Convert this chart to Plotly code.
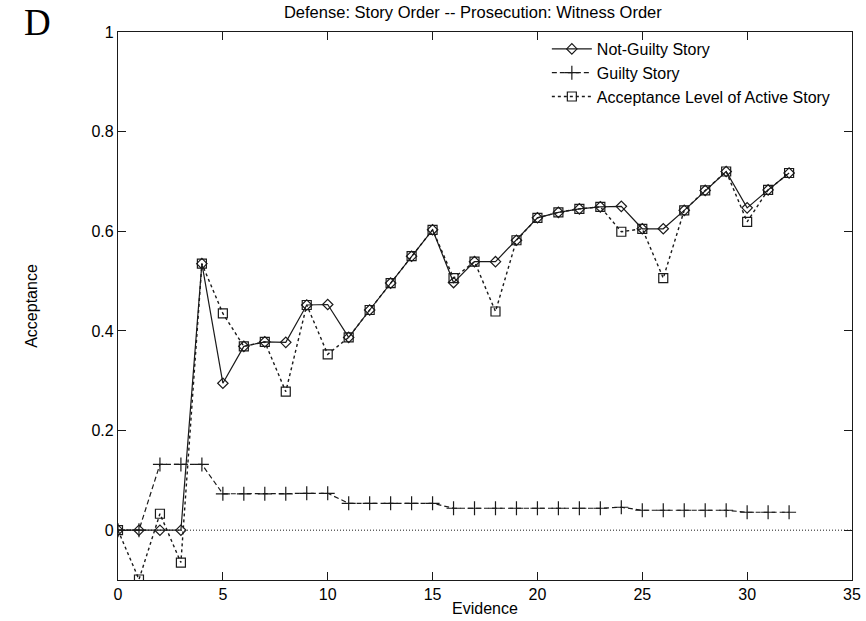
import plotly.graph_objects as go

evidence = list(range(33))

not_guilty = [0, 0, 0, 0, 0.535, 0.295, 0.369, 0.378, 0.377, 0.452, 0.453,
              0.387, 0.442, 0.496, 0.550, 0.603, 0.497, 0.539, 0.539, 0.582,
              0.627, 0.638, 0.645, 0.649, 0.650, 0.605, 0.605, 0.642, 0.682,
              0.720, 0.647, 0.683, 0.717]

guilty = [0, 0, 0.132, 0.132, 0.132, 0.073, 0.073, 0.073, 0.073, 0.074, 0.074,
          0.054, 0.054, 0.054, 0.054, 0.054, 0.044, 0.044, 0.044, 0.044,
          0.044, 0.044, 0.044, 0.044, 0.046, 0.040, 0.040, 0.040, 0.040,
          0.040, 0.036, 0.036, 0.036]

active = [0, -0.099, 0.033, -0.065, 0.535, 0.435, 0.369, 0.378, 0.278, 0.452,
          0.353, 0.387, 0.442, 0.496, 0.550, 0.603, 0.506, 0.539, 0.439, 0.582,
          0.627, 0.638, 0.645, 0.649, 0.599, 0.605, 0.506, 0.642, 0.682,
          0.720, 0.619, 0.683, 0.717]

x_ticks = [0, 5, 10, 15, 20, 25, 30, 35]
y_ticks = [0, 0.2, 0.4, 0.6, 0.8, 1]
y_tick_labels = ["0", "0.2", "0.4", "0.6", "0.8", "1"]

INK = "#1a1a1a"
FONT = "Liberation Sans, Arial, sans-serif"

fig = go.Figure()
fig.add_trace(go.Scatter(
    x=evidence, y=not_guilty, name="Not-Guilty Story", mode="lines+markers",
    line=dict(color=INK, width=1.2),
    marker=dict(symbol="diamond-open", size=8, color=INK, line=dict(width=1.2, color=INK)),
))
fig.add_trace(go.Scatter(
    x=evidence, y=guilty, name="Guilty Story", mode="lines+markers",
    line=dict(color=INK, width=1.2, dash="5px,3px"),
    marker=dict(symbol="cross-thin-open", size=10, color=INK, line=dict(width=1.2, color=INK)),
))
fig.add_trace(go.Scatter(
    x=evidence, y=active, name="Acceptance Level of Active Story", mode="lines+markers",
    line=dict(color=INK, width=1.4, dash="3px,3px"),
    marker=dict(symbol="square-open", size=9, color=INK, line=dict(width=1.2, color=INK)),
))

fig.add_hline(y=0, line=dict(color=INK, width=1, dash="1px,2px"), layer="below")

fig.add_annotation(text="D", xref="paper", yref="paper", x=-0.109, y=1.018,
                   xanchor="center", yanchor="middle", showarrow=False,
                   font=dict(family="Liberation Serif, Times New Roman, serif", size=37, color="black"))

axis_common = dict(
    showline=True, linecolor=INK, linewidth=1.3, mirror="ticks",
    ticks="inside", ticklen=8, tickwidth=1.3, tickcolor=INK,
    showgrid=False, zeroline=False, automargin=False,
    tickfont=dict(family=FONT, size=16, color="black"),
)

fig.update_layout(
    width=866, height=621,
    margin=dict(l=118, r=14, t=32, b=41),
    paper_bgcolor="white", plot_bgcolor="white",
    title=dict(text="Defense: Story Order -- Prosecution: Witness Order",
               x=0.546, xanchor="center", y=0.981, yanchor="middle",
               font=dict(family=FONT, size=16.5, color="black")),
    xaxis=dict(range=[0, 35], tickvals=x_ticks,
               title=dict(text="Evidence", font=dict(family=FONT, size=16, color="black"), standoff=0),
               **axis_common),
    yaxis=dict(range=[-0.1, 1], tickvals=y_ticks, ticktext=y_tick_labels,
               title=dict(text="Acceptance", font=dict(family=FONT, size=16, color="black"), standoff=49),
               **axis_common),
    legend=dict(x=0.978, y=1.0, xanchor="right", yanchor="top",
                bgcolor="rgba(0,0,0,0)", borderwidth=0,
                font=dict(family=FONT, size=16, color="black"),
                tracegroupgap=0, itemwidth=40),
    showlegend=True,
)

fig.write_html("out.html", config={"displayModeBar": False},
               post_script="document.body.style.margin='0';")
